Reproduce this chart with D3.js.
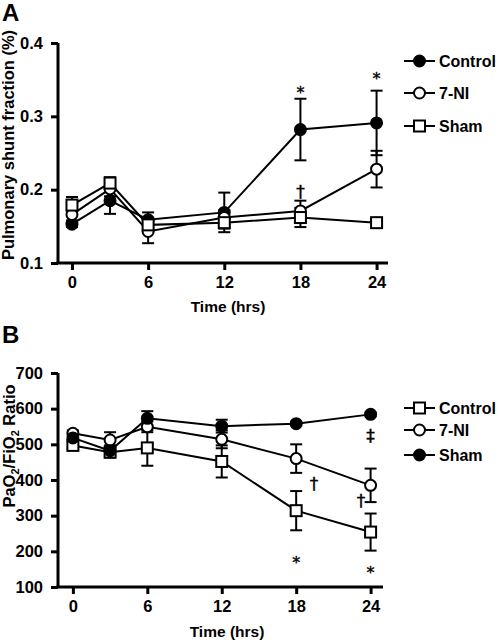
<!DOCTYPE html>
<html><head><meta charset="utf-8">
<script src="https://cdn.jsdelivr.net/npm/d3@7"></script>
<style>body{margin:0;background:#fff}svg{display:block}text{font-family:"Liberation Sans",Arial,sans-serif}</style>
</head><body><svg id="c" width="498" height="640"></svg>
<script>
const times = [0, 3, 6, 12, 18, 24];
const xTicks = [0, 6, 12, 18, 24];
// Panel A: pulmonary shunt fraction
const ctrlA = [0.153, 0.185, 0.159, 0.169, 0.282, 0.291];
const ctrlAErr = [0.004, 0.018, 0.010, 0.027, 0.042, 0.044];
const niA = [0.166, 0.201, 0.143, 0.162, 0.171, 0.228];
const niAErr = [0.008, 0.010, 0.016, 0.010, 0.014, 0.025];
const shamA = [0.179, 0.209, 0.152, 0.155, 0.162, 0.155];
const shamAErr = [0.011, 0.008, 0.010, 0.008, 0.013, 0.003];
const yTicksA = [0.1, 0.2, 0.3, 0.4];
// Panel B: PaO2/FiO2 ratio
const ctrlB = [497, 478, 490, 452, 314, 254];
const ctrlBErr = [10, 15, 50, 45, 55, 52];
const niB = [531, 512, 549, 514, 460, 385];
const niBErr = [8, 22, 15, 25, 40, 47];
const shamB = [518, 482, 573, 551, 558, 584];
const shamBErr = [10, 15, 20, 18, 5, 5];
const yTicksB = [100, 200, 300, 400, 500, 600, 700];

const svg = d3.select("#c");
const BOLD = "bold";

function panel(cfg) {
  const g = svg.append("g");
  const x = d3.scaleLinear().domain(cfg.xDom).range(cfg.xRange);
  const y = d3.scaleLinear().domain(cfg.yDom).range(cfg.yRange);
  const ax = g.append("g").attr("transform", `translate(0,${cfg.yRange[0]})`)
    .call(d3.axisBottom(x).tickValues(xTicks).tickSize(7).tickSizeOuter(0).tickPadding(6));
  const ay = g.append("g").attr("transform", `translate(${cfg.xRange[0]},0)`)
    .call(d3.axisLeft(y).tickValues(cfg.yTicks).tickSize(7).tickSizeOuter(0).tickPadding(8).tickFormat(cfg.fmt));
  [ax, ay].forEach(a => {
    a.select(".domain").attr("stroke-width", 3).attr("stroke", "#000");
    a.selectAll(".tick line").attr("stroke-width", 3).attr("stroke", "#000");
    a.selectAll(".tick text").attr("font-size", 16.5).attr("font-weight", BOLD).attr("fill", "#000")
      .style("font-family", '"Liberation Sans",Arial,sans-serif');
  });
  ax.select(".domain").attr("d", `M${cfg.xRange[0]-1.5},0H${cfg.xRange[1]}`);
  ay.select(".domain").attr("d", `M0,${cfg.yRange[0]}V${cfg.yRange[1]}`);

  const line = d3.line().x((d, i) => x(times[i])).y(d => y(d));
  cfg.series.forEach(s => {
    g.append("path").datum(s.v).attr("d", line).attr("fill", "none").attr("stroke", "#000").attr("stroke-width", 2);
  });
  cfg.series.forEach(s => {
    const eg = g.append("g").attr("stroke", "#000").attr("stroke-width", 2);
    s.v.forEach((v, i) => {
      const cx = x(times[i]), t = y(v + s.e[i]), b = y(v - s.e[i]);
      eg.append("line").attr("x1", cx).attr("x2", cx).attr("y1", t).attr("y2", b);
      eg.append("line").attr("x1", cx - 6).attr("x2", cx + 6).attr("y1", t).attr("y2", t);
      eg.append("line").attr("x1", cx - 6).attr("x2", cx + 6).attr("y1", b).attr("y2", b);
    });
  });
  function marker(sel, type, cx, cy) {
    if (type === "square") {
      sel.append("rect").attr("x", cx - 5.5).attr("y", cy - 5.5).attr("width", 11).attr("height", 11)
        .attr("fill", "#fff").attr("stroke", "#000").attr("stroke-width", 2);
    } else {
      sel.append("circle").attr("cx", cx).attr("cy", cy).attr("r", 5.5)
        .attr("fill", type === "filled" ? "#000" : "#fff").attr("stroke", "#000").attr("stroke-width", 2);
    }
  }
  cfg.series.forEach(s => {
    s.v.forEach((v, i) => marker(g, s.type, x(times[i]), y(v)));
  });
  cfg.series.forEach((s, i) => {
    const ly = cfg.legY[i];
    g.append("line").attr("x1", 404).attr("x2", 435).attr("y1", ly).attr("y2", ly).attr("stroke", "#000").attr("stroke-width", 2);
    marker(g, s.type, 419.5, ly);
    g.append("text").attr("x", 439).attr("y", ly + 6).attr("font-size", 16).attr("font-weight", BOLD).text(s.name);
  });
  cfg.notes.forEach(n => {
    g.append("text").attr("x", n.x === undefined ? x(n.t) : n.x).attr("y", n.y)
      .attr("text-anchor", "middle").attr("font-size", n.s).attr("fill", "#000")
      .attr("stroke", "#000").attr("stroke-width", 0.4).attr("opacity", 0.99)
      .style("font-family", '"DejaVu Sans",sans-serif').text(n.txt);
  });
  g.append("text").attr("x", cfg.xTitleX).attr("y", cfg.xTitleY).attr("text-anchor", "middle")
    .attr("font-size", 15.5).attr("font-weight", BOLD).text("Time (hrs)");
  return {x, y, g};
}

panel({
  xDom: [-1.1, 24.9], xRange: [58, 388], yDom: [0.1, 0.4], yRange: [263, 43], yTicks: yTicksA,
  fmt: d3.format(".1f"),
  series: [
    {name: "Control", v: ctrlA, e: ctrlAErr, type: "filled"},
    {name: "7-NI", v: niA, e: niAErr, type: "open"},
    {name: "Sham", v: shamA, e: shamAErr, type: "square"}
  ],
  legY: [61, 93, 126],
  notes: [
    {t: 18, y: 98, txt: "*", s: 16},
    {t: 24, y: 84, txt: "*", s: 16},
    {t: 18, y: 198, txt: "†", s: 17}
  ],
  xTitleX: 228, xTitleY: 312
});
svg.append("text").attr("x", 2).attr("y", 21).attr("font-size", 24).attr("font-weight", BOLD).text("A");
svg.append("text").attr("transform", "translate(14,145) rotate(-90)").attr("text-anchor", "middle")
  .attr("font-size", 16.5).attr("font-weight", BOLD).text("Pulmonary shunt fraction (%)");

panel({
  xDom: [-1.2, 25], xRange: [58, 383], yDom: [100, 700], yRange: [587, 373], yTicks: yTicksB,
  fmt: d3.format("d"),
  series: [
    {name: "Control", v: ctrlB, e: ctrlBErr, type: "square"},
    {name: "7-NI", v: niB, e: niBErr, type: "open"},
    {name: "Sham", v: shamB, e: shamBErr, type: "filled"}
  ],
  legY: [408, 430, 455],
  notes: [
    {t: 24, y: 442, txt: "‡", s: 17},
    {x: 314, y: 490, txt: "†", s: 17},
    {x: 361, y: 507, txt: "†", s: 17},
    {t: 18, y: 568, txt: "*", s: 16},
    {t: 24, y: 578, txt: "*", s: 16}
  ],
  xTitleX: 227, xTitleY: 637
});
svg.append("text").attr("x", 2).attr("y", 343).attr("font-size", 24).attr("font-weight", BOLD).text("B");
const tb = svg.append("text").attr("transform", "translate(15,446) rotate(-90)").attr("text-anchor", "middle")
  .attr("font-size", 16.5).attr("font-weight", BOLD);
tb.append("tspan").text("PaO");
tb.append("tspan").attr("font-size", 11).attr("dy", 4).text("2");
tb.append("tspan").attr("dy", -4).text("/FiO");
tb.append("tspan").attr("font-size", 11).attr("dy", 4).text("2");
tb.append("tspan").attr("dy", -4).text(" Ratio");
</script></body></html>
